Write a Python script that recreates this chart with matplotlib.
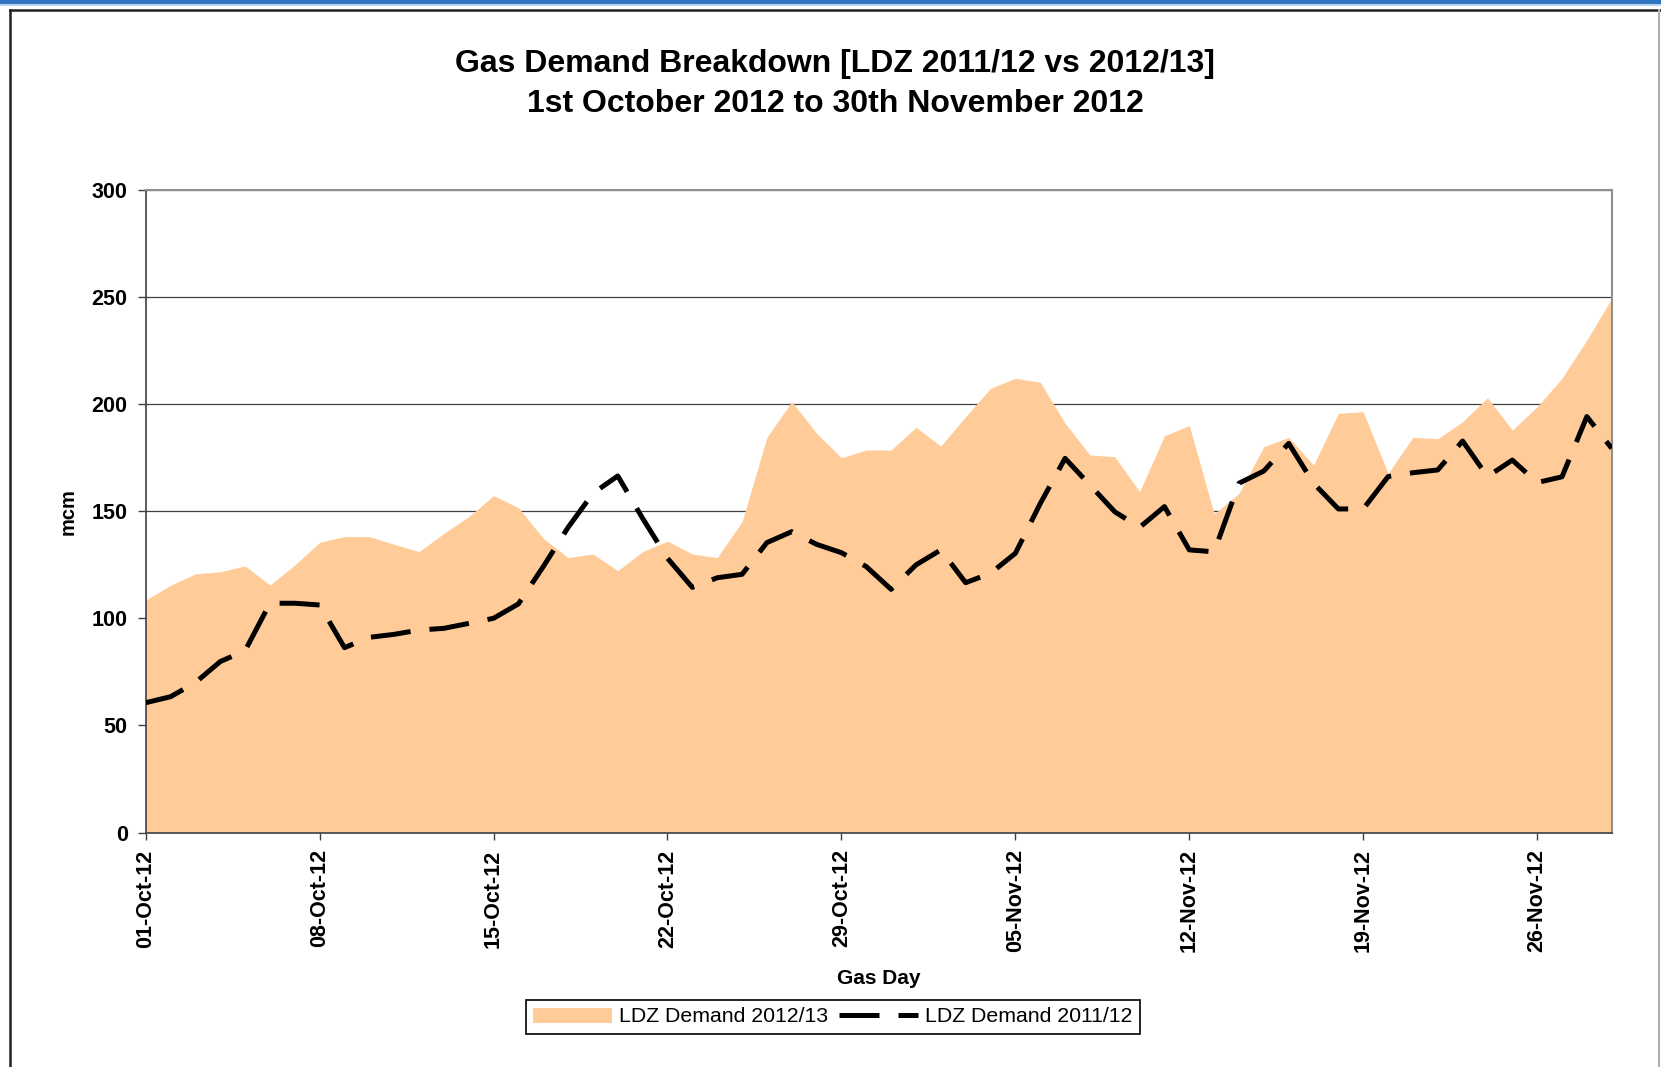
import matplotlib
matplotlib.use("Agg")
import matplotlib.pyplot as plt
from matplotlib.patches import Rectangle, Patch
from matplotlib.lines import Line2D
import pandas as pd

plt.rcParams['font.family'] = ['Liberation Sans', 'DejaVu Sans']

# ---- data ----
start_date = "2012-10-01"
n_days = 60
demand_2012_13 = [108.5, 115.4, 120.7, 121.7, 124.4, 115.5, 124.9, 135.4, 138.1, 138.1,
                  134.5, 131.1, 139.6, 147.4, 157.2, 151.6, 137.3, 128.3, 130.0, 122.2,
                  131.1, 136.0, 130.0, 128.3, 145.1, 184.4, 201.1, 186.3, 174.9, 178.5,
                  178.5, 189.1, 180.4, 194.1, 207.3, 212.0, 210.1, 191.0, 176.2, 175.4,
                  159.1, 185.2, 189.9, 148.7, 158.3, 180.1, 184.4, 171.5, 195.6, 196.4,
                  167.6, 184.4, 183.8, 191.7, 202.9, 187.8, 198.7, 212.0, 229.8, 249.3]
demand_2011_12 = [60.6, 63.4, 70.0, 79.8, 84.9, 107.0, 107.0, 106.2, 86.3, 91.1,
                  92.5, 94.5, 95.3, 97.6, 100.0, 106.7, 124.1, 142.4, 158.3, 166.4,
                  146.6, 128.0, 114.4, 118.9, 120.5, 135.3, 140.4, 134.5, 130.6, 124.1,
                  113.5, 124.9, 131.9, 116.6, 121.0, 130.3, 153.5, 174.6, 162.2, 149.7,
                  142.4, 152.1, 131.9, 131.0, 163.0, 168.7, 181.6, 163.0, 151.0, 151.0,
                  166.1, 167.9, 169.2, 182.7, 166.1, 173.8, 163.3, 166.0, 194.1, 179.3]
y_ticks = [0, 50, 100, 150, 200, 250, 300]
series_labels = ["LDZ Demand 2012/13", "LDZ Demand 2011/12"]
title_text = "Gas Demand Breakdown [LDZ 2011/12 vs 2012/13]\n1st October 2012 to 30th November 2012"

dates = pd.date_range(start_date, periods=n_days, freq="D")

W, H = 1661, 1067
fig = plt.figure(figsize=(W / 100, H / 100), dpi=100)

# outer decorations (blue band + frame)
fig.patches.append(Rectangle((0, 1 - 4 / H), 1, 4 / H, transform=fig.transFigure,
                             facecolor="#2F75C0", edgecolor="none"))
fig.patches.append(Rectangle((0, 1 - 5.5 / H), 1, 1.5 / H, transform=fig.transFigure,
                             facecolor="#BBD3EE", edgecolor="none"))
fig.add_artist(Line2D([10 / W, 10 / W], [0, 1 - 10 / H], transform=fig.transFigure,
                      color="#202020", lw=1.8))
fig.add_artist(Line2D([10 / W, 1], [1 - 10 / H, 1 - 10 / H], transform=fig.transFigure,
                      color="#202020", lw=1.8))
fig.add_artist(Line2D([1659 / W, 1659 / W], [0, 1 - 10 / H], transform=fig.transFigure,
                      color="#B0B0B0", lw=1.5))

left, right = 145.7 / W, 1611.7 / W
bottom, top = 1 - 832.6 / H, 1 - 189.6 / H
ax = fig.add_axes([left, bottom, right - left, top - bottom])

ax.set_axisbelow(True)
ax.yaxis.grid(True, color="#404040", lw=0.9)
ax.fill_between(dates, 0, demand_2012_13, color="#FFCC99", lw=0, zorder=2)
ax.plot(dates, demand_2011_12, color="black", lw=3.6, dashes=(8, 3.8),
        solid_capstyle="butt", dash_capstyle="butt", zorder=3)

ax.set_xlim(dates[0], dates[-1])
ax.set_ylim(0, 300)
ax.set_yticks(y_ticks)
tick_dates = dates[::7]
ax.set_xticks(tick_dates)
ax.set_xticklabels([d.strftime("%d-%b-%y") for d in tick_dates], rotation=90,
                   fontsize=15.5, fontweight="bold")
for lab in ax.get_yticklabels():
    lab.set_fontsize(15.5)
    lab.set_fontweight("bold")

ax.tick_params(axis="y", direction="out", length=6, width=1, color="#404040", pad=7)
ax.tick_params(axis="x", direction="out", length=5, width=1, color="#404040", pad=7)

for s in ["left", "bottom"]:
    ax.spines[s].set_color("#404040")
    ax.spines[s].set_linewidth(1.2)
for s in ["top", "right"]:
    ax.spines[s].set_color("#909090")
    ax.spines[s].set_linewidth(1.5)

ax.set_ylabel("mcm", fontsize=14.5, fontweight="bold")
ax.yaxis.set_label_coords((78 - 145.7) / (1611.7 - 145.7), 0.5)
ax.set_xlabel("Gas Day", fontsize=15, fontweight="bold")
ax.xaxis.set_label_coords(0.5, -(968.6 - 832.6) / (832.6 - 189.6))

fig.text(835 / W, 1 - 84.2 / H, title_text, ha="center", va="center",
         fontsize=23, fontweight="bold", linespacing=1.45)

handles = [Patch(facecolor="#FFCC99", edgecolor="none"),
           Line2D([], [], color="black", lw=3.6, dashes=(8, 3.8), dash_capstyle="butt")]
leg = fig.legend(handles, series_labels, loc="center", ncol=2,
                 bbox_to_anchor=(833 / W, 1 - 1017 / H), fontsize=15.3,
                 frameon=True, fancybox=False, edgecolor="black", framealpha=1,
                 handlelength=3.7, handletextpad=0.35, columnspacing=0.5,
                 borderpad=0.35, borderaxespad=0)
leg.get_frame().set_linewidth(1.2)

fig.savefig("out.png", dpi=100)
